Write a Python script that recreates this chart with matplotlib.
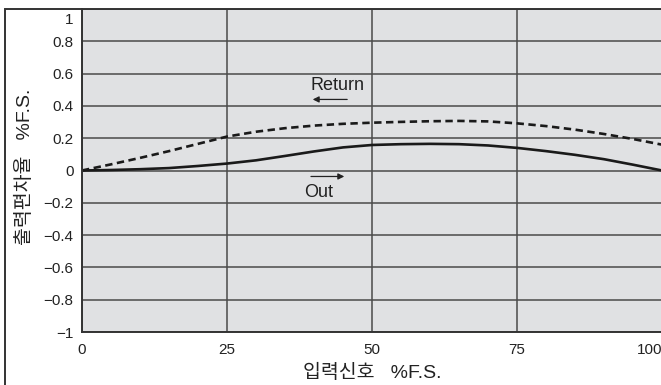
import matplotlib.pyplot as plt
from matplotlib.patches import Rectangle
from matplotlib.transforms import ScaledTranslation

plt.rcParams['font.family'] = ['Liberation Sans', 'Noto Sans CJK KR']

inputSignal = [0, 5, 10, 15, 20, 25, 30, 35, 40, 45, 50, 55, 60, 65, 70, 75, 80, 85, 90, 95, 100]
outValues = [0, 0.003, 0.008, 0.015, 0.028, 0.043, 0.063, 0.09, 0.118, 0.143, 0.158, 0.163,
             0.165, 0.163, 0.155, 0.14, 0.12, 0.097, 0.07, 0.036, 0.0]
returnValues = [0, 0.038, 0.078, 0.12, 0.165, 0.21, 0.24, 0.262, 0.278, 0.289, 0.296, 0.301,
                0.305, 0.307, 0.304, 0.292, 0.275, 0.253, 0.226, 0.195, 0.16]
xTicks = [0, 25, 50, 75, 100]
yTicks = [-1, -0.8, -0.6, -0.4, -0.2, 0, 0.2, 0.4, 0.6, 0.8, 1]
yTickLabels = ['\u22121', '\u22120.8', '\u22120.6', '\u22120.4', '\u22120.2', '0',
               '0.2', '0.4', '0.6', '0.8', '1']

fig = plt.figure(figsize=(6.61, 3.85), dpi=100)
ax = fig.add_axes([82 / 661, 53 / 385, 580 / 661, 323 / 385])
ax.set_facecolor('#e0e1e3')

ax.plot(inputSignal, returnValues, color='#1a1a1a', lw=1.9, linestyle=(0, (2.8, 1.7)))
ax.plot(inputSignal, outValues, color='#1a1a1a', lw=1.9)

ax.set_xlim(0, 100)
ax.set_ylim(-1, 1)
ax.set_xticks(xTicks)
ax.set_yticks(yTicks)
ax.set_xticklabels([str(t) for t in xTicks])
# the top label sits under its grid line, so it is drawn separately
ax.set_yticklabels(yTickLabels[:-1] + [''])
ax.tick_params(axis='y', length=0, labelsize=11, colors='#222222', pad=6)
ax.tick_params(axis='x', length=0, labelsize=11, colors='#222222', pad=8)
ax.xaxis.get_ticklabels()[-1].set_horizontalalignment('right')
shift = ScaledTranslation(-6 / 72, -3 / 72, fig.dpi_scale_trans)
ax.text(0, yTicks[-1], yTickLabels[-1], transform=ax.get_yaxis_transform() + shift,
        ha='right', va='top', fontsize=11, color='#222222')

ax.grid(True, color='#4a4a4a', lw=1.1)
ax.set_axisbelow(True)
for side in ['top', 'right']:
    ax.spines[side].set_visible(False)
for side in ['left', 'bottom']:
    ax.spines[side].set_color('#333333')
    ax.spines[side].set_linewidth(1.4)

ax.set_xlabel('입력신호   %F.S.', fontsize=14, labelpad=5, color='#222222')
fig.text(25 / 661, 1 - 167 / 385, '출력편차율   %F.S.', rotation=90, fontsize=14,
         ha='center', va='center', color='#222222')

ax.text(44.1, 0.526, 'Return', fontsize=13, ha='center', va='center', color='#222222')
ax.annotate('', xy=(39.3, 0.44), xytext=(46.2, 0.44),
            arrowprops=dict(arrowstyle='-|>', color='#222222', lw=0.9, mutation_scale=9))
ax.text(40.8, -0.134, 'Out', fontsize=13, ha='center', va='center', color='#222222')
ax.annotate('', xy=(45.7, -0.037), xytext=(39.0, -0.037),
            arrowprops=dict(arrowstyle='-|>', color='#222222', lw=0.9, mutation_scale=9))

# outer frame round the whole chart
fig.patches.append(Rectangle((5 / 661, -0.1), 1.0, 1.1 - 8.5 / 385, transform=fig.transFigure,
                             fill=False, edgecolor='#333333', lw=1.4, zorder=0))

fig.savefig('out.png', dpi=100)
